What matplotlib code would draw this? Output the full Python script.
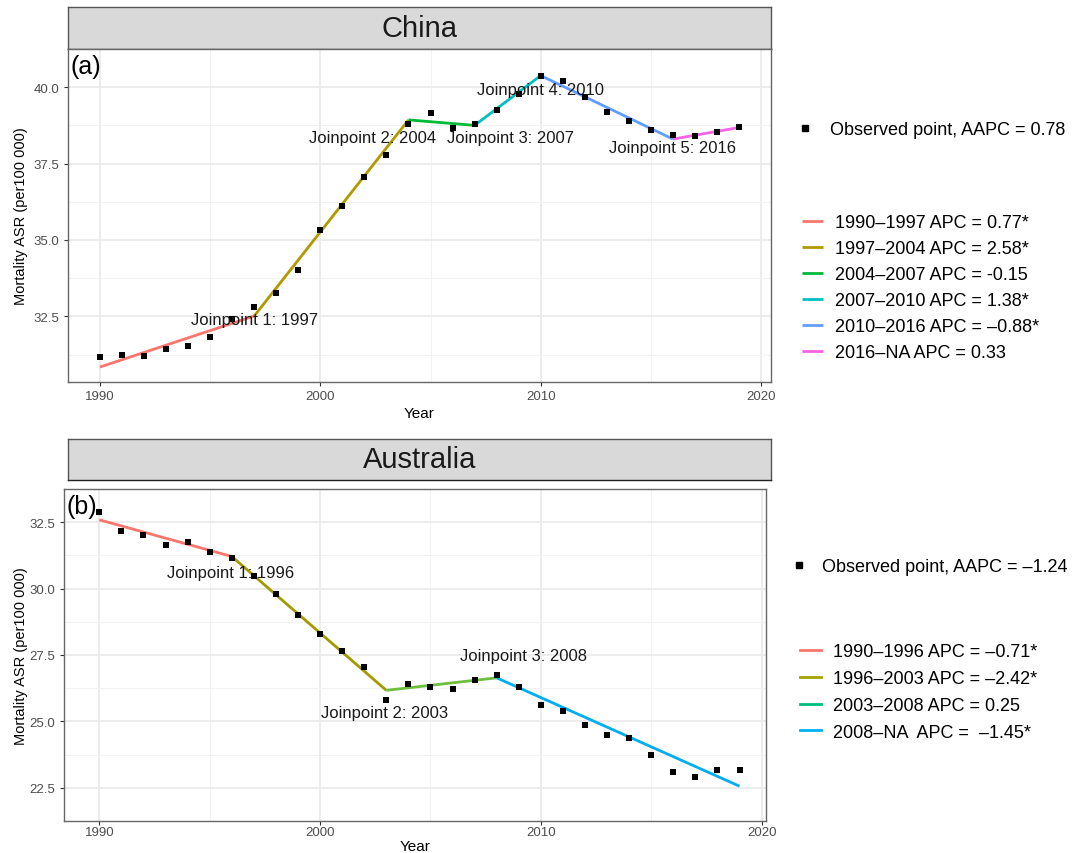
import numpy as np
import matplotlib
matplotlib.use("Agg")
import matplotlib.pyplot as plt
from matplotlib.lines import Line2D

plt.rcParams.update({"font.family": ["Liberation Sans", "DejaVu Sans"]})

W, H = 1075, 854

years = list(range(1990, 2020))

# ---- China (a) ----
cn_obs = [31.16, 31.22, 31.20, 31.44, 31.52, 31.83, 32.41, 32.81, 33.26, 34.02,
          35.31, 36.12, 37.06, 37.78, 38.81, 39.17, 38.65, 38.80, 39.25, 39.77,
          40.38, 40.19, 39.69, 39.20, 38.89, 38.61, 38.43, 38.40, 38.52, 38.71]
cn_jp_years = [1990, 1997, 2004, 2007, 2010, 2016, 2019]
cn_jp_fit = [30.84, 32.51, 38.93, 38.75, 40.38, 38.30, 38.68]
cn_cols = ["#F8766D", "#B09A00", "#00BA38", "#00BFC4", "#619CFF", "#F564E3"]
cn_labels = ["1990\u20131997 APC = 0.77*", "1997\u20132004 APC = 2.58*",
             "2004\u20132007 APC = -0.15", "2007\u20132010 APC = 1.38*",
             "2010\u20132016 APC = \u20130.88*", "2016\u2013NA APC = 0.33"]
cn_aapc = "Observed point, AAPC = 0.78"
cn_ann = ["Joinpoint 1: 1997", "Joinpoint 2: 2004", "Joinpoint 3: 2007",
          "Joinpoint 4: 2010", "Joinpoint 5: 2016"]
cn_ann_x = [1997.0, 2002.35, 2008.65, 2010.0, 2016.0]
cn_ann_y = [32.40, 38.36, 38.36, 39.91, 38.04]

# ---- Australia (b) ----
au_obs = [32.88, 32.15, 32.02, 31.66, 31.77, 31.36, 31.15, 30.48, 29.81, 29.02,
          28.30, 27.64, 27.04, 25.79, 26.41, 26.31, 26.23, 26.57, 26.75, 26.31,
          25.60, 25.41, 24.86, 24.48, 24.38, 23.75, 23.10, 22.91, 23.17, 23.17]
au_jp_years = [1990, 1996, 2003, 2008, 2019]
au_jp_fit = [32.59, 31.21, 26.17, 26.64, 22.56]
au_cols = ["#F8766D", "#A39A00", "#6DBE3C", "#00AEEF"]
au_leg_cols = ["#F8766D", "#A3A500", "#00BF7D", "#00B0F6"]
au_labels = ["1990\u20131996 APC = \u20130.71*", "1996\u20132003 APC = \u20132.42*",
             "2003\u20132008 APC = 0.25", "2008\u2013NA  APC =  \u20131.45*"]
au_aapc = "Observed point, AAPC = \u20131.24"
au_ann = ["Joinpoint 1: 1996", "Joinpoint 2: 2003", "Joinpoint 3: 2008"]
au_ann_x = [1995.95, 2002.9, 2009.2]
au_ann_y = [30.62, 25.33, 27.48]


def px_axes(x0, y0, x1, y1):
    return fig.add_axes([x0 / W, 1 - y1 / H, (x1 - x0) / W, (y1 - y0) / H])


def strip(x0, y0, x1, y1, title):
    s = px_axes(x0, y0, x1, y1)
    s.set_xticks([]); s.set_yticks([])
    s.set_facecolor("#D9D9D9")
    for sp in s.spines.values():
        sp.set_color("#555555"); sp.set_linewidth(1.0)
    s.spines["bottom"].set_color("#222222")
    s.text(0.5, 0.5, title, ha="center", va="center", fontsize=21, color="#1A1A1A",
           transform=s.transAxes)


def panel(ax, obs, jp_years, jp_fit, cols, ann, ann_x, ann_y, tag, yticks, ylim, xlim, xpad):
    ax.set_xlim(*xlim); ax.set_ylim(*ylim)
    ax.set_xticks([1990, 2000, 2010, 2020])
    ax.set_xticks([1995, 2005, 2015], minor=True)
    ax.set_yticks(yticks)
    ax.set_yticks([(a + b) / 2 for a, b in zip(yticks[:-1], yticks[1:])] +
                  [yticks[0] - 1.25, yticks[-1] + 1.25], minor=True)
    ax.set_yticklabels([f"{v:.1f}" for v in yticks])
    ax.grid(which="major", color="#EBEBEB", lw=1.3)
    ax.grid(which="minor", color="#F2F2F2", lw=0.7)
    ax.set_axisbelow(True)
    ax.tick_params(which="major", length=3, color="#333333", labelsize=9.5,
                   labelcolor="#4D4D4D", width=0.8)
    ax.tick_params(axis="x", pad=xpad)
    ax.tick_params(which="minor", length=0)
    for sp in ax.spines.values():
        sp.set_color("#666666"); sp.set_linewidth(1.0)
    lines = []
    for i in range(len(jp_years) - 1):
        ln, = ax.plot(jp_years[i:i + 2], jp_fit[i:i + 2], color=cols[i], lw=2.0,
                      solid_capstyle="butt", zorder=2)
        lines.append(ln)
    pts = ax.scatter(years, obs, marker="s", s=24, color="black", zorder=3, linewidths=0)
    for t, x, y in zip(ann, ann_x, ann_y):
        ax.text(x, y, t, ha="center", va="center", fontsize=12, color="#1A1A1A", zorder=4)
    ax.text(0.003, 0.985, tag, transform=ax.transAxes, ha="left", va="top",
            fontsize=18, color="black")
    ax.set_ylabel("Mortality ASR (per100 000)", fontsize=10.5)
    ax.set_xlabel("Year", fontsize=11)
    return lines, pts


fig = plt.figure(figsize=(W / 100, H / 100), dpi=100)

# panel (a)
strip(68, 8, 771, 50, "China")
axA = px_axes(68, 50, 771, 383)
linesA, ptsA = panel(axA, cn_obs, cn_jp_years, cn_jp_fit, cn_cols, cn_ann, cn_ann_x, cn_ann_y,
                     "(a)", [32.5, 35.0, 37.5, 40.0], (30.35, 40.85), (1988.55, 2020.45), 3)
axA.yaxis.set_label_coords(-0.057, 0.5)
axA.xaxis.set_label_coords(0.5, -0.072)

# panel (b)
strip(68, 440, 771, 481, "Australia")
axB = px_axes(64, 490, 766, 822)
linesB, ptsB = panel(axB, au_obs, au_jp_years, au_jp_fit, au_cols, au_ann, au_ann_x, au_ann_y,
                     "(b)", [22.5, 25.0, 27.5, 30.0, 32.5], (21.91, 33.40), (1988.4, 2020.2), 0.5)
axB.yaxis.set_label_coords(-0.051, 0.5)
axB.xaxis.set_label_coords(0.5, -0.055)


def leg(handles, labels, x, y, hl, htp, sp):
    fig.legend(handles, labels, loc="upper left", bbox_to_anchor=(x / W, 1 - y / H),
               frameon=False, fontsize=13, handlelength=hl, handletextpad=htp,
               labelspacing=sp, borderpad=0, borderaxespad=0)


sq = lambda: Line2D([], [], marker="s", ls="", color="black", markersize=4.2)
leg([sq()], [cn_aapc], 796, 122, 1.0, 0.9, 0.45)
leg(linesA, cn_labels, 802, 215, 1.17, 0.67, 0.5)
leg([sq()], [au_aapc], 790, 559, 1.0, 0.75, 0.45)
leg([Line2D([], [], color=c, lw=2.0) for c in au_leg_cols], au_labels, 800, 644, 1.17, 0.67, 0.55)

fig.savefig("out.png", dpi=100)
